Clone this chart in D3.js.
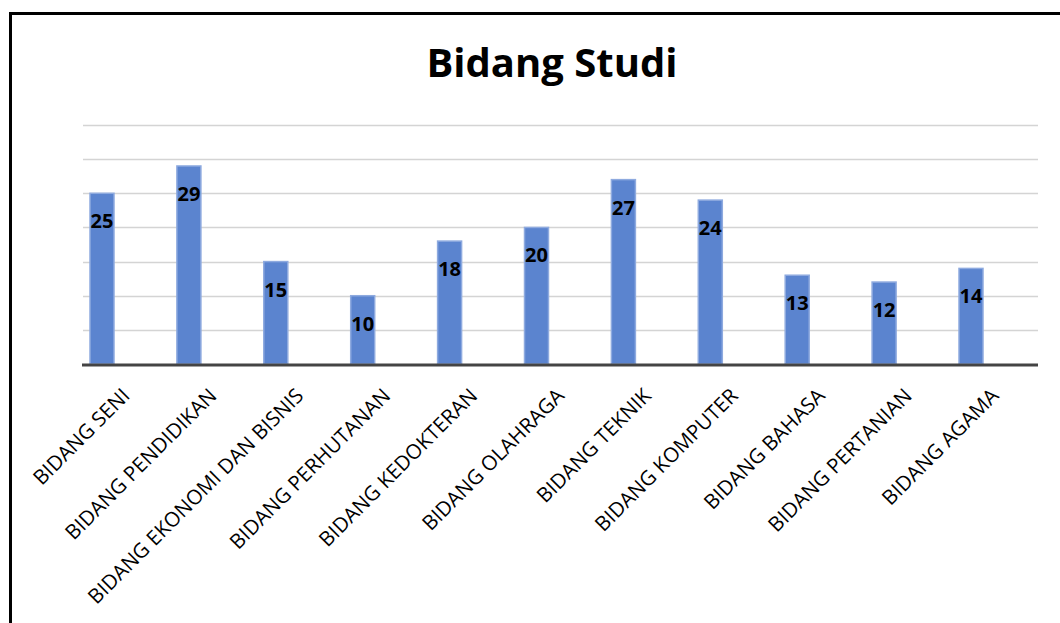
<!DOCTYPE html>
<html>
<head>
<meta charset="utf-8">
<script src="https://cdn.jsdelivr.net/npm/d3@7"></script>
<style>
	body { margin: 0; background: #fff; }
	svg { display: block; font-family: "Open Sans", Lato, sans-serif; }
</style>
</head>
<body>
<svg id="chart" width="1060" height="623"></svg>
<script>
// data
var categories = ['BIDANG SENI', 'BIDANG PENDIDIKAN', 'BIDANG EKONOMI DAN BISNIS', 'BIDANG PERHUTANAN',
	'BIDANG KEDOKTERAN', 'BIDANG OLAHRAGA', 'BIDANG TEKNIK', 'BIDANG KOMPUTER',
	'BIDANG BAHASA', 'BIDANG PERTANIAN', 'BIDANG AGAMA'];
var values = [25, 29, 15, 10, 18, 20, 27, 24, 13, 12, 14];
var gridTicks = [5, 10, 15, 20, 25, 30, 35];
var title = 'Bidang Studi';

var svg = d3.select('#chart');

// frame (left + top border of the pasted chart)
svg.append('path')
	.attr('d', 'M10.5,623 L10.5,13.5 L1060,13.5')
	.attr('fill', 'none')
	.attr('stroke', '#000')
	.attr('stroke-width', 3);

var plotLeft = 83, plotRight = 1038;
var y = d3.scaleLinear().domain([0, 35]).range([364, 125]);
var x = d3.scalePoint().domain(categories).range([102, 971]);
var barW = 24;

// title
svg.append('text')
	.attr('x', 552).attr('y', 77)
	.attr('text-anchor', 'middle')
	.attr('font-weight', 'bold')
	.attr('font-size', 40)
	.attr('fill', '#000')
	.text(title);

// gridlines
svg.append('g').selectAll('line')
	.data(gridTicks)
	.enter().append('line')
	.attr('x1', plotLeft).attr('x2', plotRight)
	.attr('y1', function(d){ return Math.round(y(d)) + 0.5; })
	.attr('y2', function(d){ return Math.round(y(d)) + 0.5; })
	.attr('stroke', '#d4d4d4')
	.attr('stroke-width', 1.5);

// bars
svg.append('g').selectAll('rect')
	.data(values)
	.enter().append('rect')
	.attr('x', function(d, i){ return x(categories[i]) - barW / 2; })
	.attr('y', function(d){ return y(d); })
	.attr('width', barW)
	.attr('height', function(d){ return y(0) - y(d); })
	.attr('fill', '#5b84cf')
	.attr('stroke', '#8eaadf')
	.attr('stroke-width', 1.5);

// value labels
svg.append('g').selectAll('text')
	.data(values)
	.enter().append('text')
	.attr('x', function(d, i){ return x(categories[i]); })
	.attr('y', function(d){ return y(d) + 35; })
	.attr('text-anchor', 'middle')
	.attr('font-weight', 'bold')
	.attr('font-size', 20)
	.attr('fill', '#000')
	.text(function(d){ return d; });

// baseline
svg.append('line')
	.attr('x1', plotLeft - 1).attr('x2', plotRight)
	.attr('y1', y(0) + 1).attr('y2', y(0) + 1)
	.attr('stroke', '#444')
	.attr('stroke-width', 3);

// category labels, rotated
svg.append('g').selectAll('text')
	.data(categories)
	.enter().append('text')
	.attr('transform', function(d){ return 'translate(' + (x(d) + 29) + ',397) rotate(-45)'; })
	.attr('text-anchor', 'end')
	.attr('font-size', 20.5)
	.attr('fill', '#000')
	.text(function(d){ return d; });
</script>
</body>
</html>
